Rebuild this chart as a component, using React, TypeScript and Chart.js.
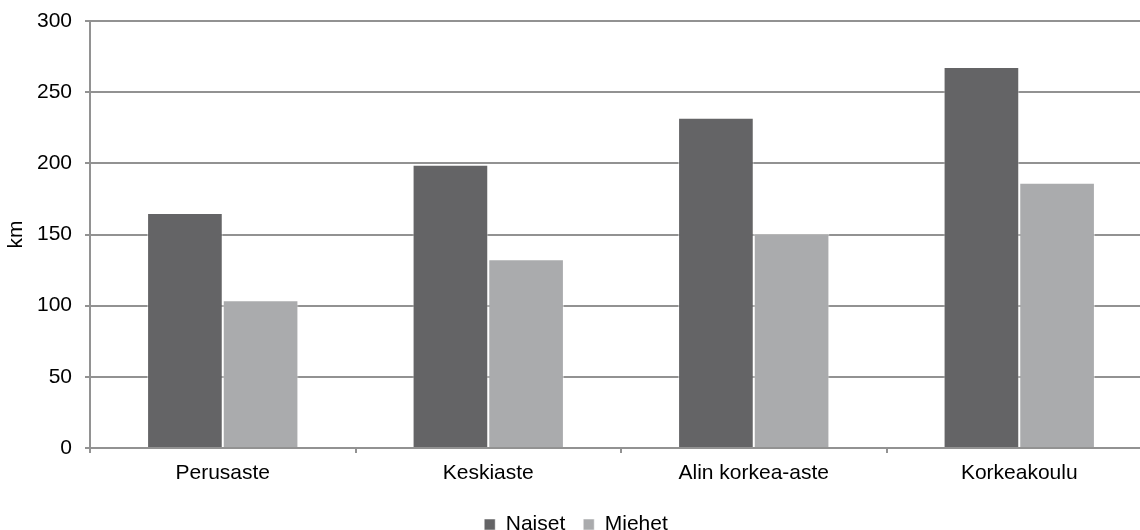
import React, { useEffect, useRef } from "react";
import { Chart, registerables } from "chart.js";

Chart.register(...registerables);

const categories = ["Perusaste", "Keskiaste", "Alin korkea-aste", "Korkeakoulu"];
const naiset = [165.1, 199.0, 232.0, 267.6];
const miehet = [103.8, 132.6, 150.6, 186.4];
const seriesNames = ["Naiset", "Miehet"];
const yTitle = "km";

const FONT = "'Liberation Sans', Arial, sans-serif";
const GRID = "#929292";

export default function App() {
  const ref = useRef<HTMLCanvasElement | null>(null);

  useEffect(() => {
    if (!ref.current) return;
    const chart = new Chart(ref.current, {
      type: "bar",
      data: {
        labels: categories,
        datasets: [
          {
            label: seriesNames[0],
            data: naiset,
            backgroundColor: "#646466",
            borderColor: "rgba(255,255,255,0.5)",
            borderWidth: 1,
          },
          {
            label: seriesNames[1],
            data: miehet,
            backgroundColor: "#aaabad",
            borderColor: "rgba(255,255,255,0.5)",
            borderWidth: 1,
          },
        ],
      },
      options: {
        animation: false,
        responsive: true,
        maintainAspectRatio: false,
        datasets: {
          bar: { categoryPercentage: 0.57, barPercentage: 1 },
        },
        layout: { padding: { top: 21, left: 0, right: 0, bottom: 0 } },
        font: { family: FONT },
        plugins: {
          tooltip: { enabled: false },
          legend: {
            position: "bottom",
            labels: {
              boxWidth: 11,
              boxHeight: 11,
              padding: 18,
              color: "#000",
              font: { family: FONT, size: 21 },
            },
          },
        },
        scales: {
          x: {
            offset: true,
            grid: {
              offset: true,
              drawOnChartArea: false,
              drawTicks: true,
              tickLength: 5,
              color: GRID,
              lineWidth: 2,
            },
            border: { color: GRID, width: 2 },
            ticks: {
              color: "#000",
              padding: 8,
              maxRotation: 0,
              font: { family: FONT, size: 21 },
            },
            afterFit: (s: any) => {
              s.height = 48;
            },
          },
          y: {
            min: 0,
            max: 300,
            grid: {
              color: GRID,
              lineWidth: 2,
              tickLength: 5,
              drawTicks: true,
            },
            border: { color: GRID, width: 2 },
            ticks: {
              stepSize: 50,
              color: "#000",
              padding: 13,
              font: { family: FONT, size: 21 },
            },
            title: {
              display: true,
              text: yTitle,
              color: "#000",
              font: { family: FONT, size: 21 },
              padding: { top: 4, bottom: 0 },
            },
            afterFit: (s: any) => {
              s.width = 90;
              s.paddingTop = 0;
              s.paddingBottom = 0;
            },
          },
        },
      },
    });
    return () => chart.destroy();
  }, []);

  return (
    <div
      style={{
        position: "absolute",
        left: 0,
        top: 0,
        width: 1140,
        height: 530,
        overflow: "hidden",
        background: "#fff",
      }}
    >
      <div style={{ position: "relative", width: 1152, height: 545 }}>
        <canvas ref={ref} />
      </div>
    </div>
  );
}
